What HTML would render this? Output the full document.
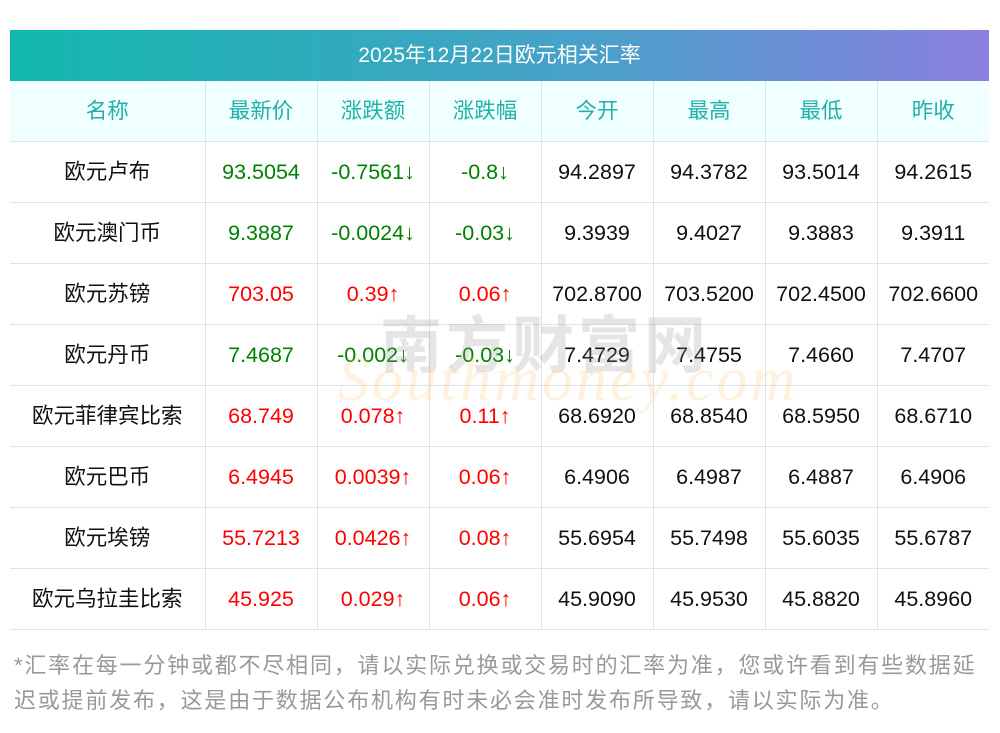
<!DOCTYPE html>
<html><head><meta charset="utf-8"><style>
body{margin:0;width:1000px;height:733px;background:#fff;font-family:"Liberation Sans","Noto Sans CJK SC",sans-serif;position:relative;overflow:hidden}
.title{position:absolute;left:10px;top:30px;width:979px;height:51px;background:linear-gradient(90deg,#12b8ad,#4aa0c9 60%,#8b7fe0);color:#fff;font-size:21px;line-height:51px;text-align:center}
table{position:absolute;left:10px;top:81px;border-collapse:collapse;width:979px;table-layout:fixed}
td{border:1px solid #dde3ea;height:60px;text-align:center;font-size:21.5px;padding:0;color:#111;line-height:24px}
tr:first-child td{background:#f0ffff;color:#20b2aa;border-top:none}
tr td:first-child{border-left:none}
tr td:last-child{border-right:none}
.g{color:#008000}.r{color:#ff0000}
.note{position:absolute;left:14px;top:648px;width:990px;font-size:22px;line-height:35px;color:#999;letter-spacing:1.8px;white-space:nowrap}
.wm1{position:absolute;left:380px;top:295px;font-size:62px;color:rgba(150,150,150,.25);letter-spacing:4px;font-weight:bold;font-family:"Noto Sans CJK SC",sans-serif}
.wm2{position:absolute;left:338px;top:345px;font-size:62px;color:rgba(255,200,120,.25);font-style:italic;font-family:"Liberation Serif",serif;letter-spacing:3px}
</style></head><body>
<div class="title">2025年12月22日欧元相关汇率</div>
<table>
<colgroup><col style="width:195px"><col span="7" style="width:112px"></colgroup>
<tr><td>名称</td><td>最新价</td><td>涨跌额</td><td>涨跌幅</td><td>今开</td><td>最高</td><td>最低</td><td>昨收</td></tr>
<tr><td>欧元卢布</td><td class="g">93.5054</td><td class="g">-0.7561↓</td><td class="g">-0.8↓</td><td>94.2897</td><td>94.3782</td><td>93.5014</td><td>94.2615</td></tr>
<tr><td>欧元澳门币</td><td class="g">9.3887</td><td class="g">-0.0024↓</td><td class="g">-0.03↓</td><td>9.3939</td><td>9.4027</td><td>9.3883</td><td>9.3911</td></tr>
<tr><td>欧元苏镑</td><td class="r">703.05</td><td class="r">0.39↑</td><td class="r">0.06↑</td><td>702.8700</td><td>703.5200</td><td>702.4500</td><td>702.6600</td></tr>
<tr><td>欧元丹币</td><td class="g">7.4687</td><td class="g">-0.002↓</td><td class="g">-0.03↓</td><td>7.4729</td><td>7.4755</td><td>7.4660</td><td>7.4707</td></tr>
<tr><td>欧元菲律宾比索</td><td class="r">68.749</td><td class="r">0.078↑</td><td class="r">0.11↑</td><td>68.6920</td><td>68.8540</td><td>68.5950</td><td>68.6710</td></tr>
<tr><td>欧元巴币</td><td class="r">6.4945</td><td class="r">0.0039↑</td><td class="r">0.06↑</td><td>6.4906</td><td>6.4987</td><td>6.4887</td><td>6.4906</td></tr>
<tr><td>欧元埃镑</td><td class="r">55.7213</td><td class="r">0.0426↑</td><td class="r">0.08↑</td><td>55.6954</td><td>55.7498</td><td>55.6035</td><td>55.6787</td></tr>
<tr><td>欧元乌拉圭比索</td><td class="r">45.925</td><td class="r">0.029↑</td><td class="r">0.06↑</td><td>45.9090</td><td>45.9530</td><td>45.8820</td><td>45.8960</td></tr>
</table>
<div class="wm1">南方财富网</div>
<div class="wm2">Southmoney.com</div>
<div class="note">*汇率在每一分钟或都不尽相同，请以实际兑换或交易时的汇率为准，您或许看到有些数据延<br>迟或提前发布，这是由于数据公布机构有时未必会准时发布所导致，请以实际为准。</div>
</body></html>
